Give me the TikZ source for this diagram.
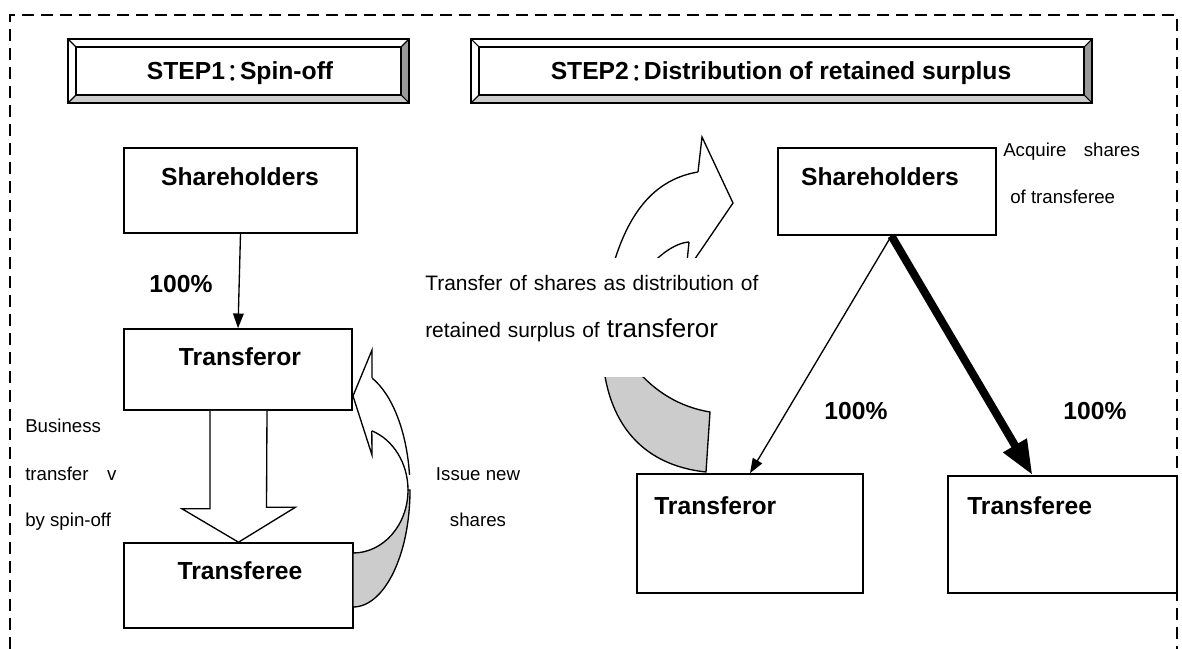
\documentclass[tikz,border=0pt]{standalone}
\usepackage{fontspec}
\setmainfont{Liberation Sans}
\newfontfamily\cjkfont{Noto Sans CJK JP}
\usetikzlibrary{arrows.meta,calc,fit}

\definecolor{shade}{HTML}{CCCCCC}
\definecolor{bevdark}{HTML}{999999}
\definecolor{bevlight}{HTML}{CCCCCC}

% bevelled title panel: corners (#1,#2) and (#3,#4)
\newcommand{\bevelpanel}[4]{%
  \fill[white] (#1,#2) rectangle (#3,#4);
  \fill[bevdark] (#3,#2) -- (#3,#4) -- (#3-8,#4-8) -- (#3-8,#2+8) -- cycle;
  \fill[bevlight] (#1,#4) -- (#3,#4) -- (#3-8,#4-8) -- (#1+8,#4-8) -- cycle;
  \draw[line width=0.8pt] (#1,#2) -- (#1+8,#2+8) (#3,#2) -- (#3-8,#2+8)
        (#1,#4) -- (#1+8,#4-8) (#3,#4) -- (#3-8,#4-8);
  \draw[line width=0.9pt] (#1+8,#2+8) rectangle (#3-8,#4-8);
  \draw[line width=1.6pt] (#1,#2) rectangle (#3,#4);
}
% full-width colon of the step titles
\newcommand{\wcolon}{{\kern-3.6pt\raisebox{-1.6pt}{\cjkfont\mdseries ：}\kern-3.6pt}}

\begin{document}
\begin{tikzpicture}[x=0.75pt, y=-0.75pt,
  box/.style={draw, line width=1.2pt, fill=white, inner sep=0pt},
  lbl/.style={font=\fontsize{18.5}{22}\selectfont\bfseries, inner sep=0pt, anchor=base},
  lblw/.style={lbl, anchor=base west},
  note/.style={font=\fontsize{14}{17}\selectfont, inner sep=0pt, anchor=base west},
  notec/.style={note, anchor=base},
  thinarrow/.style={line width=1pt, -{Triangle[length=11pt,width=8pt]}},
  thickarrow/.style={line width=6pt, -{Triangle[length=26pt,width=19pt]}},
  band/.style={line width=1pt, line join=miter},
]
\useasboundingbox (0,0) rectangle (1182,649);

% frame, open at the bottom
\draw[line width=2pt, dash pattern=on 9pt off 5.25pt] (10,649) -- (10,15) -- (1177,15) -- (1177,649);

% title panels
\bevelpanel{68}{39}{409}{103}
\bevelpanel{471}{39}{1092}{103}
\node[lbl] (step1) at (240,80) {STEP1\wcolon Spin-off};
\node[lbl] (step2) at (781,80) {STEP2\wcolon Distribution of retained surplus};

% ---------- step 1 ----------
\node[box, fit={(124,148) (357,233)}] (sh1) {};
\node[box, fit={(124,329) (352,410)}] (tf1) {};
\node[box, fit={(124,543) (353,628)}] (te1) {};
\node[lbl] (sh1t) at (240,186) {Shareholders};
\node[lbl] (tf1t) at (240,365) {Transferor};
\node[lbl] (te1t) at (240,579) {Transferee};

\draw[thinarrow] (sh1.south) -- (tf1.north);
\node[lbl] (p1) at (181,292) {100\%};

% business transfer block arrow
\filldraw[fill=white, line width=1pt, line join=miter]
  ($(tf1.south)+(-28,0)$) -- ++(0,98) -- ++(-28,0) -- (te1.north)
  -- ($(te1.north)+(57,-35)$) -- ++(-29,0) -- ($(tf1.south)+(29,0)$);

\node[note] (bt1) at (25,432) {Business};
\node[note] (bt2) at (25,480) {transfer\hspace{14pt}v};
\node[note] (bt3) at (25,526) {by spin-off};

% curved arrow: new shares issued back to the transferor
\filldraw[fill=shade, band]
  (408,490) .. controls (408,524.8) and (383.4,553) .. (353,553)
  -- (353,607) .. controls (384.5,607) and (410,554.6) .. (410,490) -- cycle;
\draw[band] (372,378) .. controls (392.2,394.4) and (406.8,431.3) .. (409.5,474.9);
\draw[band] (371.8,430.8) .. controls (393.5,439.8) and (408,463.5) .. (408,490);
\filldraw[fill=white, band] (372,378) -- (372,350) -- (353,396) -- (372,455) -- (371.8,430.8);

\node[notec] (in1) at (478,480) {Issue new};
\node[notec] (in2) at (478,526) {shares};

% ---------- step 2 ----------
\node[box, fit={(778,148) (996,235)}] (sh2) {};
\node[box, fit={(637,474) (863,593)}] (tf2) {};
\node[box, fit={(948,476) (1177,593)}] (te2) {};
\node[lbl] (sh2t) at (880,186) {Shareholders};
\node[lblw] (tf2t) at (654,514) {Transferor};
\node[lblw] (te2t) at (967,514) {Transferee};
\coordinate (fork) at ($(sh2.south west)!0.52!(sh2.south east)$);

% curved arrow: transferor hands the shares to its shareholders
\filldraw[fill=shade, band]
  (602,340) .. controls (602,420) and (640,465) .. (706,472)
  -- (710,412) .. controls (680,407) and (655,392) .. (635,368) -- cycle;
\draw[band] (698,172) .. controls (650,180) and (620,220) .. (605,300);
\draw[band] (689,242) .. controls (675,243) and (655,255) .. (630,290);
\filldraw[fill=white, band] (698,172) -- (702,137) -- (733,203) -- (686,272) -- (689,242);

\node[fill=white, anchor=north west, inner ysep=0pt, inner xsep=5.25pt,
      text width=260pt, align=left, font=\fontsize{15.7}{35.25}\selectfont] (dist)
  at (418,258)
  {\rule{0pt}{24pt}Transfer of shares as distribution of\\
   retained surplus of {\fontsize{19.5}{35.25}\selectfont transferor}\rule[-30pt]{0pt}{0pt}};

\draw[thinarrow] (fork) -- (tf2.north);
\draw[thickarrow] (fork) -- ($(te2.north west)!0.37!(te2.north east)$);

\node[lbl] (p2) at (856,419) {100\%};
\node[lbl] (p3) at (1095,419) {100\%};

\node[note] (aq1) at (1003,157) {Acquire\hspace{13pt}shares};
\node[note] (aq2) at (1010,204) {of transferee};
\end{tikzpicture}
\end{document}
